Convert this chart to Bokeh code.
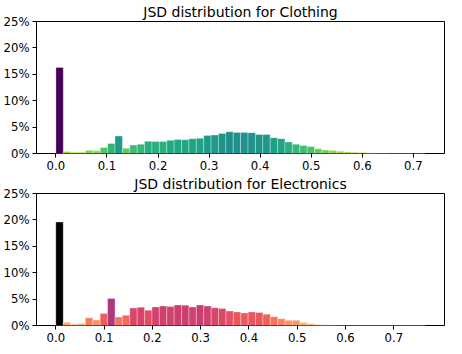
import numpy as np
from bokeh.plotting import figure
from bokeh.layouts import column
from bokeh.models import Range1d, FixedTicker, NumeralTickFormatter, PrintfTickFormatter, ColumnDataSource
from bokeh.palettes import Viridis256, Magma256
from bokeh.embed import file_html
from bokeh.resources import INLINE

N_BINS = 50
clothing_jsd_max = 0.7235
electronics_jsd_max = 0.766

# percentage of pairs per JSD bin
clothing_pct = [16.3, 0.4, 0.25, 0.25, 0.6, 0.5, 1.15, 1.9, 3.3, 1.0,
                1.6, 1.75, 2.3, 2.25, 2.25, 2.5, 2.65, 2.6, 2.8, 2.9,
                3.4, 3.5, 3.8, 4.1, 4.0, 4.0, 3.95, 3.6, 3.6, 3.0,
                2.8, 2.2, 1.75, 1.5, 1.33, 0.9, 0.67, 0.55, 0.42, 0.3,
                0.24, 0.18, 0.12, 0.06, 0.03, 0.02, 0.01, 0.01, 0.005, 0.005]

electronics_pct = [19.6, 0.6, 0.3, 0.43, 1.46, 1.04, 2.26, 5.1, 1.6, 1.95,
                   3.3, 3.45, 2.9, 3.5, 3.7, 3.6, 3.9, 3.85, 3.5, 3.9,
                   3.7, 3.35, 3.2, 2.74, 2.56, 2.38, 2.56, 2.44, 2.13, 1.65,
                   1.28, 0.98, 0.98, 0.55, 0.37, 0.18, 0.12, 0.03, 0.02, 0.01,
                   0.01, 0.005, 0.0, 0.0, 0.0, 0.0, 0.0, 0.0, 0.0, 0.005]

x_ticks = [0.0, 0.1, 0.2, 0.3, 0.4, 0.5, 0.6, 0.7]
y_ticks = [0, 5, 10, 15, 20, 25]

FONT = "DejaVu Sans"


def colors_for(pct, palette):
    h = np.asarray(pct, dtype=float)
    t = 1.0 - np.sqrt(h / h.max())
    idx = np.clip(np.round(t * 255).astype(int), 0, 255)
    return [palette[i] for i in idx]


def make_hist(title, pct, jsd_max, palette, x_start, x_end):
    w = jsd_max / N_BINS
    left = np.arange(N_BINS) * w
    src = ColumnDataSource(dict(x=left + w / 2, top=pct, color=colors_for(pct, palette)))
    p = figure(frame_width=408, frame_height=132,
               x_range=Range1d(x_start, x_end), y_range=Range1d(0, 25),
               output_backend="svg", toolbar_location=None, title=title)
    p.vbar(x="x", top="top", width=w, bottom=0, source=src,
           fill_color="color", line_color="white", line_alpha=0.45, line_width=0.7)

    p.title.text_font = FONT
    p.title.text_font_size = "14px"
    p.title.text_font_style = "normal"
    p.title.text_color = "black"
    p.title.align = "center"
    p.title.standoff = 3

    p.xgrid.grid_line_color = None
    p.ygrid.grid_line_color = None
    p.outline_line_color = "black"
    p.outline_line_width = 1
    p.outline_line_alpha = 1
    p.background_fill_color = "white"
    p.border_fill_color = "white"

    p.xaxis.ticker = FixedTicker(ticks=x_ticks)
    p.xaxis.formatter = NumeralTickFormatter(format="0.0")
    p.yaxis.ticker = FixedTicker(ticks=y_ticks)
    p.yaxis.formatter = PrintfTickFormatter(format="%d%%")
    for ax in (p.xaxis, p.yaxis):
        ax.axis_line_color = None
        ax.major_tick_line_color = "black"
        ax.major_tick_line_width = 1
        ax.major_tick_out = 4
        ax.major_tick_in = 0
        ax.minor_tick_line_color = None
        ax.major_label_text_font = FONT
        ax.major_label_text_font_size = "11.7px"
        ax.major_label_text_color = "black"
        ax.major_label_standoff = 3

    p.min_border_left = 0
    p.min_border_right = 3
    p.min_border_top = 0
    p.min_border_bottom = 0
    return p


p1 = make_hist("JSD distribution for Clothing", clothing_pct, clothing_jsd_max,
               Viridis256, -0.038, 0.761)
p2 = make_hist("JSD distribution for Electronics", electronics_pct, electronics_jsd_max,
               Magma256, -0.040, 0.805)

layout = column(p1, p2, spacing=0)
open("out.html", "w").write(file_html(layout, INLINE))
